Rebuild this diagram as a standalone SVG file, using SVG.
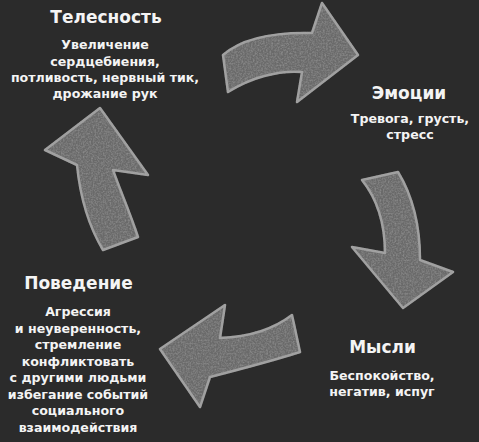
<svg xmlns="http://www.w3.org/2000/svg" width="479" height="442" viewBox="0 0 479 442">
<style>
.t{font-family:"DejaVu Sans","Noto Sans",sans-serif;font-weight:bold;fill:#f4f4f4;text-anchor:middle}
.h{font-size:17px}
.s{font-size:12.6px}
.arr{fill:#6a6a6a;stroke:#a2a2a2;stroke-width:2.5;stroke-linejoin:round;filter:url(#chalk)}
</style>
<defs>
<filter id="chalk" x="-5%" y="-5%" width="110%" height="110%">
<feTurbulence type="fractalNoise" baseFrequency="0.6" numOctaves="2" seed="4" result="n"/>
<feColorMatrix in="n" type="matrix" values="0 0 0 0 0.33  0 0 0 0 0.33  0 0 0 0 0.33  0 0 0 1.2 -0.45" result="spots"/>
<feComposite in="spots" in2="SourceGraphic" operator="in" result="s2"/>
<feMerge><feMergeNode in="SourceGraphic"/><feMergeNode in="s2"/></feMerge>
</filter>
</defs>
<rect width="479" height="442" fill="#2b2b2b"/>
<g id="connectors">
<path class="arr" d="M223,55 C240,40 270,32 312,33 L322,3 L358,55 L297,102 L302,72 C278,70 250,78 228,92 Z"/>
<path class="arr" d="M362,180 L398,172 C412,195 420,225 420,260 L453,272 L403,308 L352,247 L385,253 C385,225 378,200 362,180 Z"/>
<path class="arr" d="M292,315 L300,352 C275,360 245,368 210,377 L200,407 L160,349 L225,305 L220,338 C250,337 275,328 292,315 Z"/>
<path class="arr" d="M100,108 L148,175 L113,170 C120,190 130,213 138,237 L103,250 C88,225 80,195 77,165 L45,150 Z"/>
</g>
<g id="telesnost">
<text class="t h" x="106" y="23">Телесность</text>
<text class="t s" x="105" y="49">Увеличение</text>
<text class="t s" x="105" y="65.5">сердцебиения,</text>
<text class="t s" x="105" y="81.5">потливость, нервный тик,</text>
<text class="t s" x="105" y="97.5">дрожание рук</text>
</g>
<g id="emotsii">
<text class="t h" x="409" y="99">Эмоции</text>
<text class="t s" x="410" y="123">Тревога, грусть,</text>
<text class="t s" x="410" y="139">стресс</text>
</g>
<g id="mysli">
<text class="t h" x="382.5" y="353">Мысли</text>
<text class="t s" x="382" y="380">Беспокойство,</text>
<text class="t s" x="382" y="395.5">негатив, испуг</text>
</g>
<g id="povedenie">
<text class="t h" x="78.5" y="289">Поведение</text>
<text class="t s" x="78" y="316">Агрессия</text>
<text class="t s" x="78" y="332.5">и неуверенность,</text>
<text class="t s" x="78" y="349">стремление</text>
<text class="t s" x="78" y="365.5">конфликтовать</text>
<text class="t s" x="78" y="382">с другими людьми</text>
<text class="t s" x="78" y="398.5">избегание событий</text>
<text class="t s" x="78" y="415">социального</text>
<text class="t s" x="78" y="431.5">взаимодействия</text>
</g>
</svg>
